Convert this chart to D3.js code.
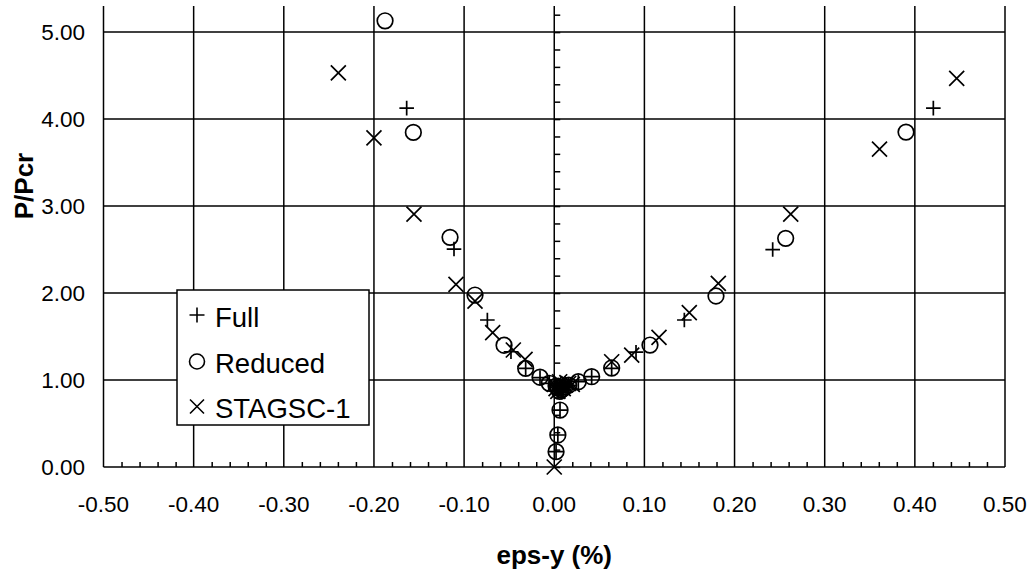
<!DOCTYPE html>
<html>
<head>
<meta charset="utf-8">
<script src="https://cdn.jsdelivr.net/npm/d3@7/dist/d3.min.js"></script>
<style>
  html, body { margin: 0; padding: 0; background: #fff; }
  svg { display: block; font-family: "Liberation Sans", Arial, sans-serif; }
</style>
</head>
<body>
<svg id="chart" width="1029" height="573"></svg>
<script>
// Strain eps-y (%) against load ratio P/Pcr for three analyses
const seriesNames = ["Full", "Reduced", "STAGSC-1"];

const fullX = [0.002, 0.004, 0.0064, 0.008, 0.006, 0.012, 0.002, 0.004, 0.010, 0.008,
               -0.0055, -0.0158, -0.0317, -0.048, -0.0742, -0.1112, -0.1637,
               0.016, 0.0267, 0.0415, 0.0637, 0.0907, 0.1443, 0.2423, 0.4205];
const fullY = [0.176, 0.368, 0.655, 0.86, 0.90, 0.92, 0.94, 0.88, 0.89, 0.93,
               0.962, 1.027, 1.134, 1.325, 1.69, 2.506, 4.126,
               0.94, 0.98, 1.038, 1.134, 1.32, 1.69, 2.50, 4.126];

const reducedX = [0.002, 0.004, 0.0064, 0.006, 0.010, 0.002, 0.008, 0.012, 0.004,
                  -0.0055, -0.0158, -0.0317, -0.0557, -0.0879, -0.1156, -0.1563, -0.1877,
                  0.016, 0.0267, 0.0415, 0.0637, 0.1062, 0.1794, 0.2567, 0.3902];
const reducedY = [0.176, 0.368, 0.655, 0.87, 0.90, 0.93, 0.89, 0.92, 0.91,
                  0.962, 1.032, 1.134, 1.40, 1.977, 2.64, 3.847, 5.13,
                  0.94, 0.98, 1.038, 1.138, 1.402, 1.966, 2.629, 3.85];

const stagsX = [0, 0.004, 0.010, 0.0, 0.006, 0.014, 0.020, 0.008, 0.012, 0.002, 0.016,
                -0.0324, -0.0454, -0.0683, -0.0879, -0.109, -0.1556, -0.2, -0.2395,
                0.0637, 0.0859, 0.1162, 0.1498, 0.182, 0.2623, 0.3608, 0.4464];
const stagsY = [0, 0.87, 0.90, 0.95, 0.98, 0.97, 0.95, 0.92, 0.94, 0.90, 0.96,
                1.238, 1.345, 1.544, 1.908, 2.10, 2.908, 3.785, 4.53,
                1.21, 1.287, 1.49, 1.774, 2.11, 2.908, 3.655, 4.468];

const xTicks = [-0.5, -0.4, -0.3, -0.2, -0.1, 0, 0.1, 0.2, 0.3, 0.4, 0.5];
const yTicks = [0, 1, 2, 3, 4, 5];
const xTitle = "eps-y (%)";
const yTitle = "P/Pcr";

const svg = d3.select("#chart");
const plotLeft = 103.5, plotRight = 1005, plotTop = 6, plotBottom = 467;

const x = d3.scaleLinear().domain([-0.5, 0.5]).range([plotLeft, plotRight]);
const y = d3.scaleLinear().domain([0, 5.3]).range([plotBottom, plotTop]);

// two decimals with a plain hyphen for negatives
const fmt = v => v.toFixed(2).replace("-0.00", "0.00");

const lineW = 1.5;

// grid
const grid = svg.append("g").attr("stroke", "#000").attr("stroke-width", lineW);
grid.selectAll("line.v").data(xTicks).join("line").attr("class", "v")
  .attr("x1", d => x(d)).attr("x2", d => x(d))
  .attr("y1", y(5.3)).attr("y2", y(0));
grid.selectAll("line.h").data(yTicks).join("line").attr("class", "h")
  .attr("x1", x(-0.5)).attr("x2", x(0.5))
  .attr("y1", d => y(d)).attr("y2", d => y(d));

// minor ticks on the x axis (every 0.02, pointing up)
const xMinor = d3.range(-50, 51, 2).map(v => v / 100).filter(v => Math.abs(v * 10 - Math.round(v * 10)) > 1e-6);
const xAxisG = svg.append("g").attr("transform", `translate(0,${y(0)})`)
  .call(d3.axisTop(x).tickValues(xMinor).tickSize(5).tickFormat(""));
xAxisG.select(".domain").remove();
xAxisG.selectAll(".tick line").attr("stroke-width", lineW);

// minor ticks on the y axis at x = 0 (every 0.2, pointing right)
const yMinor = d3.range(0, 27).map(i => i * 0.2).filter(v => v <= 5.25);
const yAxisG = svg.append("g").attr("transform", `translate(${x(0)},0)`)
  .call(d3.axisRight(y).tickValues(yMinor).tickSize(6).tickFormat(""));
yAxisG.select(".domain").remove();
yAxisG.selectAll(".tick line").attr("stroke-width", lineW);

// tick labels
svg.append("g").selectAll("text").data(xTicks).join("text")
  .attr("x", d => x(d)).attr("y", 512)
  .attr("text-anchor", "middle").attr("font-size", 22.5)
  .text(fmt);
svg.append("g").selectAll("text").data(yTicks).join("text")
  .attr("x", 85).attr("y", d => y(d) + 8)
  .attr("text-anchor", "end").attr("font-size", 22.5)
  .text(fmt);

// axis titles
svg.append("text").attr("x", (plotLeft + plotRight) / 2).attr("y", 564)
  .attr("text-anchor", "middle").attr("font-size", 26).attr("font-weight", "bold")
  .text(xTitle);
svg.append("text").attr("transform", `translate(33,186) rotate(-90)`)
  .attr("text-anchor", "middle").attr("font-size", 26).attr("font-weight", "bold")
  .text(yTitle);

// marker shapes
function plusPath(s) { return `M${-s},0H${s}M0,${-s}V${s}`; }
function crossPath(s) { return `M${-s},${-s}L${s},${s}M${-s},${s}L${s},${-s}`; }

const markStroke = 1.7;
const zip = (xs, ys) => xs.map((v, i) => [v, ys[i]]);

svg.append("g").selectAll("circle").data(zip(reducedX, reducedY)).join("circle")
  .attr("cx", d => x(d[0])).attr("cy", d => y(d[1])).attr("r", 7.8)
  .attr("fill", "none").attr("stroke", "#000").attr("stroke-width", markStroke);

svg.append("g").selectAll("path").data(zip(fullX, fullY)).join("path")
  .attr("transform", d => `translate(${x(d[0])},${y(d[1])})`)
  .attr("d", plusPath(7.3))
  .attr("fill", "none").attr("stroke", "#000").attr("stroke-width", markStroke);

svg.append("g").selectAll("path").data(zip(stagsX, stagsY)).join("path")
  .attr("transform", d => `translate(${x(d[0])},${y(d[1])})`)
  .attr("d", crossPath(7.5))
  .attr("fill", "none").attr("stroke", "#000").attr("stroke-width", markStroke);

// legend
const lg = svg.append("g");
lg.append("rect").attr("x", 177).attr("y", 290).attr("width", 192).attr("height", 135)
  .attr("fill", "#fff").attr("stroke", "#000").attr("stroke-width", 1.5);
const legendRows = [
  {name: seriesNames[0], cy: 315, shape: "plus"},
  {name: seriesNames[1], cy: 361.5, shape: "circle"},
  {name: seriesNames[2], cy: 406.5, shape: "cross"}
];
legendRows.forEach(r => {
  const g = lg.append("g").attr("transform", `translate(197,${r.cy})`);
  if (r.shape === "plus") g.append("path").attr("d", plusPath(7.5));
  else if (r.shape === "circle") g.append("circle").attr("r", 7.5);
  else g.append("path").attr("d", crossPath(7));
  g.selectAll("path,circle").attr("fill", "none").attr("stroke", "#000").attr("stroke-width", 1.6);
  lg.append("text").attr("x", 215).attr("y", r.cy + 11.5)
    .attr("font-size", 27.5).text(r.name);
});
</script>
</body>
</html>
